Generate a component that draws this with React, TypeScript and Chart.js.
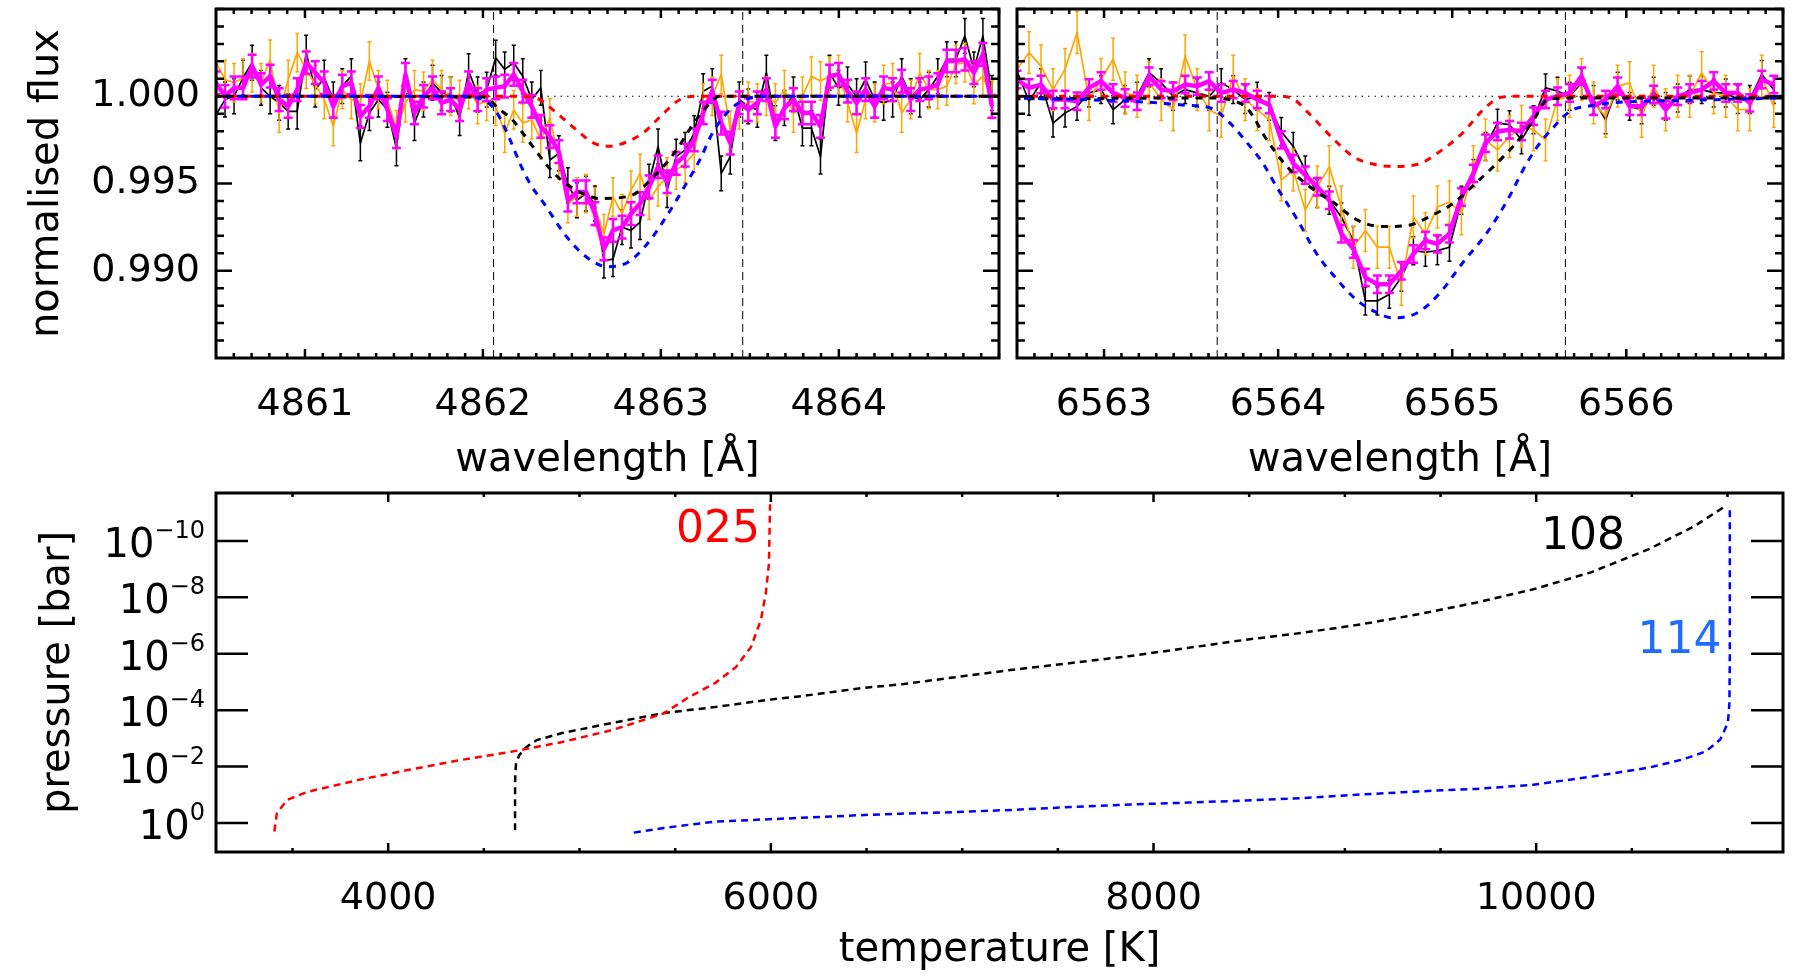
import React, { useEffect, useRef } from "react";
import { Chart, registerables } from "chart.js";

Chart.register(...registerables);

const FONT = "'DejaVu Sans', 'Liberation Sans', Arial, sans-serif";
Chart.defaults.font.family = FONT;
Chart.defaults.color = "#000";

// ---------------- shared flux axis ----------------
const FLUX_RANGE = [0.985, 1.005];
const FLUX_TICKS = [0.99, 0.995, 1.0];

// ---------------- H-beta panel ----------------
const HB_RANGE = [4860.5, 4864.9];
const HB_TICKS = [4861, 4862, 4863, 4864];
const HB_WINDOW = [4862.06, 4863.46];
const HB_WAVE_START = 4860.5;
const HB_WAVE_STEP = 0.0507;
const HB_BLACK = [
  0.99894, 0.99981, 1.0, 1.00106, 1.00192, 1.00048, 1.0, 0.99962, 0.99913, 0.99913,
  1.0025, 1.00038, 1.00106, 0.99981, 1.00058, 1.00115, 0.99731, 0.99904, 0.99981, 0.99923,
  0.99702, 1.00115, 0.99846, 0.99981, 1.00077, 1.00019, 1.0001, 0.99875, 1.00144, 1.0001,
  1.00038, 1.00221, 1.00154, 1.00192, 1.00115, 0.99981, 1.00048, 0.99635, 0.99673, 0.9949,
  0.99404, 0.99442, 0.99385, 0.99058, 0.99067, 0.9925, 0.99231, 0.99279, 0.9951, 0.99712,
  0.99462, 0.99654, 0.99692, 0.99788, 1.00029, 1.00058, 0.99558, 0.99654, 0.99981, 0.99942,
  0.99923, 1.00135, 0.99846, 0.99933, 1.0001, 0.99817, 0.99817, 0.99654, 1.00135, 1.00048,
  1.00067, 1.0, 1.00096, 0.99981, 0.99962, 0.99981, 1.00115, 1.0, 0.99981, 1.00038,
  1.00115, 1.00212, 1.00212, 1.00346, 1.00154, 1.00346, 1.00019,
];
const HB_ORANGE = [
  1.00192, 1.00096, 1.00077, 1.00106, 1.00135, 1.00077, 1.00212, 0.99904, 1.00096, 1.0025,
  1.00154, 1.00067, 0.99981, 0.99827, 1.00038, 0.99981, 0.99962, 1.00202, 1.00038, 0.99981,
  0.99808, 0.99962, 1.00038, 1.00029, 1.00096, 1.00038, 1.0, 0.99981, 1.00038, 0.99952,
  0.99971, 0.99942, 0.99788, 0.99923, 0.99846, 0.99865, 0.9975, 0.99875, 0.99635, 0.99385,
  0.99423, 0.99442, 0.99365, 0.99212, 0.99423, 0.99327, 0.99462, 0.99558, 0.99404, 0.99481,
  0.99538, 0.99577, 0.99615, 0.99673, 0.99962, 1.0, 1.00125, 0.99808, 0.99923, 0.99971,
  0.99962, 1.0, 0.99962, 1.00038, 0.99904, 1.0, 1.00115, 1.00087, 1.00115, 1.00125,
  0.99962, 0.99788, 0.99981, 0.99962, 1.00067, 1.00077, 0.99904, 0.99981, 1.00135, 1.00038,
  1.00038, 1.00058, 1.00183, 1.00192, 1.00067, 1.00115, 0.99981,
];
const HB_MAGENTA = [
  1.00077, 1.0, 1.00048, 1.00048, 1.00173, 1.00067, 1.00115, 0.99981, 0.99942, 1.00038,
  1.00192, 1.00135, 1.00077, 0.99942, 1.00058, 1.00077, 0.99885, 0.99942, 1.00048, 0.99923,
  0.99769, 1.00125, 0.99904, 1.0, 1.00048, 0.99962, 0.99981, 0.99923, 1.00077, 0.99981,
  1.00038, 1.00048, 1.00058, 1.00125, 1.00029, 0.99942, 0.99827, 0.99769, 0.99683, 0.99404,
  0.99452, 0.99452, 0.99327, 0.99125, 0.99231, 0.9925, 0.99327, 0.99385, 0.99481, 0.99596,
  0.9951, 0.99615, 0.99663, 0.9975, 0.99904, 1.00029, 0.99846, 0.99731, 0.99962, 0.99923,
  0.99962, 1.00038, 0.99827, 0.99933, 0.99981, 0.99904, 0.99904, 0.99827, 1.00115, 1.00125,
  1.00029, 0.99962, 1.00038, 0.99942, 1.00048, 1.00038, 1.00087, 0.99981, 1.00038, 1.00048,
  1.00067, 1.00202, 1.00202, 1.00212, 1.00135, 1.0024, 0.99942,
];
const HB_ERR_BLACK = 0.001;
const HB_ERR_ORANGE = 0.0011;
const HB_ERR_MAGENTA = 0.00065;
const HB_MODEL_RED = [
  [4860.5, 1], [4862.2, 1], [4862.3, 0.9999], [4862.39, 0.99925], [4862.51, 0.9982],
  [4862.62, 0.99733], [4862.7, 0.99714], [4862.77, 0.99724], [4862.9, 0.9979],
  [4863.01, 0.99897], [4863.11, 0.99983], [4863.2, 1], [4864.9, 1],
];
const HB_MODEL_BLACK = [
  [4860.5, 1], [4862.0, 0.99995], [4862.1, 0.9992], [4862.17, 0.9986], [4862.25, 0.99753],
  [4862.39, 0.99569], [4862.49, 0.99483], [4862.66, 0.99414], [4862.83, 0.9943],
  [4862.96, 0.9954], [4863.07, 0.99667], [4863.2, 0.99868], [4863.26, 0.99943],
  [4863.33, 1], [4864.9, 1],
];
const HB_MODEL_BLUE = [
  [4860.5, 1], [4861.9, 1], [4862.0, 0.9998], [4862.05, 0.99943], [4862.1, 0.99868],
  [4862.16, 0.99733], [4862.21, 0.9961], [4862.27, 0.9949], [4862.34, 0.9939],
  [4862.47, 0.99195], [4862.58, 0.9908], [4862.7, 0.99023], [4862.81, 0.99046],
  [4862.92, 0.9915], [4863.03, 0.9931], [4863.15, 0.99512], [4863.22, 0.99638],
  [4863.29, 0.9979], [4863.39, 0.99925], [4863.48, 0.99983], [4863.6, 1], [4864.9, 1],
];

// ---------------- H-alpha panel ----------------
const HA_RANGE = [6562.5, 6566.9];
const HA_TICKS = [6563, 6564, 6565, 6566];
const HA_WINDOW = [6563.65, 6565.65];
const HA_WAVE_START = 6562.5;
const HA_WAVE_STEP = 0.069;
const HA_BLACK = [
  1.00144, 0.99971, 1.00077, 0.99846, 0.99904, 0.99942, 1.00019, 1.00038, 0.99923, 0.99981,
  1.0, 1.00135, 1.00077, 1.0, 1.00038, 1.00019, 1.0, 1.00077, 1.00038, 0.99981,
  1.0, 0.99942, 0.99798, 0.99712, 0.99577, 0.99442, 0.99404, 0.99308, 0.99173, 0.98827,
  0.98827, 0.98865, 0.98962, 0.99115, 0.99106, 0.99115, 0.99135, 0.99404, 0.99558, 0.99712,
  0.99846, 0.99837, 0.9975, 0.99865, 1.00048, 1.00029, 1.0, 1.00077, 0.99981, 0.99865,
  1.00058, 0.99942, 0.99923, 1.00029, 0.99942, 0.9999, 1.00038, 1.00038, 1.00019, 1.00019,
  0.99981, 0.99981, 1.00125, 1.00038,
];
const HA_ORANGE = [
  1.00154, 1.0025, 1.00173, 1.00038, 1.00154, 1.00365, 0.99981, 1.00096, 1.00212, 1.00019,
  1.0, 1.00077, 0.99981, 0.99923, 1.00231, 1.00038, 0.99923, 0.99885, 1.00115, 0.99981,
  0.99923, 0.99865, 0.99519, 0.99577, 0.99346, 0.99481, 0.99596, 0.99365, 0.99135, 0.99231,
  0.99135, 0.99135, 0.98923, 0.99308, 0.99212, 0.99365, 0.99394, 0.99327, 0.99596, 0.9975,
  0.99692, 0.99769, 0.99827, 0.99808, 0.9975, 0.99981, 1.0, 1.00096, 0.99962, 0.99885,
  1.00058, 1.00077, 0.99885, 1.00058, 0.99923, 1.0, 1.0, 1.00135, 1.00019, 1.0,
  0.99923, 0.99923, 1.00115, 0.99942,
];
const HA_MAGENTA = [
  1.00096, 1.00048, 1.00067, 0.99981, 0.99981, 0.99971, 1.00048, 1.00087, 1.00019, 0.9999,
  0.99971, 1.00115, 1.00038, 1.00029, 1.00067, 1.00058, 1.00087, 1.00019, 1.00038, 1.00019,
  0.99981, 0.99952, 0.9975, 0.99615, 0.99548, 0.99481, 0.99404, 0.99212, 0.99125, 0.98962,
  0.98923, 0.98923, 0.99, 0.99096, 0.99173, 0.99154, 0.99212, 0.99423, 0.99558, 0.99731,
  0.99798, 0.99808, 0.99798, 0.99885, 0.99981, 1.0, 1.00019, 1.00115, 0.99942, 0.99981,
  1.00058, 0.99942, 0.99942, 1.0001, 0.99923, 1.0, 1.00019, 1.00038, 1.00087, 1.00019,
  1.00019, 0.99962, 1.00096, 1.00067,
];
const HA_ERR_BLACK = 0.0008;
const HA_ERR_ORANGE = 0.0012;
const HA_ERR_MAGENTA = 0.0005;
const HA_MODEL_RED = [
  [6562.5, 1], [6564.0, 1], [6564.09, 0.99983], [6564.17, 0.99908], [6564.32, 0.99753],
  [6564.43, 0.99655], [6564.55, 0.9961], [6564.66, 0.99598], [6564.8, 0.9961],
  [6564.93, 0.99684], [6565.06, 0.9979], [6565.18, 0.99925], [6565.28, 0.99994],
  [6565.4, 1], [6566.9, 1],
];
const HA_MODEL_BLACK = [
  [6562.5, 0.99985], [6563.6, 0.9999], [6563.8, 0.9995], [6563.86, 0.9988], [6563.91, 0.9979],
  [6564.05, 0.99598], [6564.18, 0.99483], [6564.32, 0.9939], [6564.45, 0.99293],
  [6564.6, 0.99253], [6564.74, 0.99259], [6564.87, 0.9931], [6565.01, 0.9939],
  [6565.14, 0.99506], [6565.26, 0.9962], [6565.37, 0.99735], [6565.47, 0.99868],
  [6565.55, 0.99983], [6565.7, 0.9999], [6566.9, 0.9999],
];
const HA_MODEL_BLUE = [
  [6562.5, 0.99989], [6562.9, 0.9998], [6563.25, 0.99966], [6563.45, 0.9995], [6563.62, 0.9993],
  [6563.72, 0.9985], [6563.82, 0.99735], [6563.91, 0.9962], [6563.99, 0.99483],
  [6564.11, 0.99293], [6564.22, 0.991], [6564.34, 0.98948], [6564.45, 0.98833],
  [6564.57, 0.98759], [6564.66, 0.9873], [6564.8, 0.98759], [6564.93, 0.98874],
  [6565.06, 0.99046], [6565.2, 0.99218], [6565.32, 0.9941], [6565.43, 0.9962],
  [6565.52, 0.99753], [6565.58, 0.9982], [6565.64, 0.99885], [6565.7, 0.99925],
  [6565.78, 0.99943], [6565.89, 0.9996], [6566.37, 0.99977], [6566.9, 0.9999],
];

// ---------------- T-P profiles (temperature K, pressure bar) ----------------
const TEMP_RANGE = [3100, 11290];
const TEMP_TICKS = [4000, 6000, 8000, 10000];
const PRESSURE_RANGE = [2e-12, 10.7];
const PRESSURE_EXPONENTS = [-10, -8, -6, -4, -2, 0];
const PROFILE_025 = [
  [3405, 2.0], [3418, 0.45], [3473, 0.15], [3577, 0.079], [3843, 0.03], [4110, 0.013],
  [4376, 5.9e-3], [4642, 3.0e-3], [4909, 1.35e-3], [5175, 5.0e-4], [5441, 1.3e-4],
  [5570, 3.5e-5], [5708, 1.1e-5], [5817, 3.0e-6], [5896, 5.8e-7], [5948, 6.3e-8],
  [5974, 6.9e-9], [5990, 6.3e-10], [5995, 1e-11], [5996, 5e-12],
];
const PROFILE_108 = [
  [4663, 1.8], [4663, 0.1], [4664, 0.02], [4668, 7.9e-3], [4684, 4.0e-3], [4723, 2.0e-3],
  [4777, 1.15e-3], [4909, 6.5e-4], [5175, 2.8e-4], [5441, 1.26e-4], [5708, 7.8e-5],
  [5974, 4.4e-5], [6157, 3.2e-5], [6491, 1.6e-5], [6677, 1.23e-5], [6977, 6.6e-6],
  [7278, 3.6e-6], [7579, 2.1e-6], [7880, 1.2e-6], [8180, 6.2e-7], [8481, 3.2e-7],
  [8782, 1.8e-7], [9083, 9.1e-8], [9383, 4.0e-8], [9684, 1.55e-8], [9985, 5.2e-9],
  [10286, 1.3e-9], [10586, 2.0e-10], [10827, 3.0e-11], [10977, 6.6e-12],
];
const PROFILE_114 = [
  [5284, 2.2], [5441, 1.5], [5708, 0.89], [6157, 0.66], [6491, 0.52], [6677, 0.47],
  [6977, 0.41], [7278, 0.34], [7579, 0.27], [7880, 0.22], [8180, 0.19], [8481, 0.16],
  [8782, 0.13], [9083, 0.098], [9383, 0.076], [9684, 0.062], [9985, 0.044], [10286, 0.023],
  [10586, 0.011], [10767, 5.6e-3], [10887, 2.9e-3], [10962, 1.1e-3], [11002, 2.8e-4],
  [11010, 5.5e-5], [11012, 1.2e-6], [11012, 6e-12],
];
const PROFILE_LABELS = [
  { text: "025", color: "#ff0000", t: 5943, p: 1.1e-10, align: "right" },
  { text: "108", color: "#000000", t: 10025, p: 2.0e-10, align: "left" },
  { text: "114", color: "#1f6cff", t: 10530, p: 9.1e-7, align: "left" },
];

// ---------------- helpers ----------------
function makeRange(from: number, to: number, step: number): number[] {
  const out: number[] = [];
  const n = Math.round((to - from) / step);
  for (let i = 0; i <= n; i++) out.push(+(from + i * step).toFixed(6));
  return out;
}
const spectrum = (start: number, step: number, vals: number[]) =>
  vals.map((y, i) => ({ x: start + i * step, y }));
const pairs = (arr: number[][]) => arr.map(([x, y]) => ({ x, y }));

const framePlugin = {
  id: "frame",
  afterDraw(chart: any, _a: any, o: any) {
    if (!o || !o.enabled) return;
    const { ctx } = chart;
    const { left, right, top, bottom } = chart.chartArea;
    const xs = chart.scales.x;
    const ys = chart.scales.y;
    ctx.save();
    ctx.strokeStyle = "#000";
    ctx.lineCap = "butt";
    ctx.lineWidth = o.tickWidth;
    ctx.beginPath();
    const xt = (vals: number[], len: number) => {
      for (const v of vals) {
        const p = xs.getPixelForValue(v);
        if (p < left || p > right) continue;
        ctx.moveTo(p, bottom);
        ctx.lineTo(p, bottom - len);
        ctx.moveTo(p, top);
        ctx.lineTo(p, top + len);
      }
    };
    const yt = (vals: number[], len: number) => {
      for (const v of vals) {
        const p = ys.getPixelForValue(v);
        if (p < top || p > bottom) continue;
        ctx.moveTo(left, p);
        ctx.lineTo(left + len, p);
        ctx.moveTo(right, p);
        ctx.lineTo(right - len, p);
      }
    };
    xt(o.xMajor, o.xMajLen);
    xt(o.xMinor, o.xMinLen);
    yt(o.yMajor, o.yMajLen);
    yt(o.yMinor, o.yMinLen);
    ctx.stroke();
    ctx.lineWidth = o.frameWidth;
    ctx.strokeRect(left, top, right - left, bottom - top);
    ctx.restore();
  },
};

const errorBarPlugin = {
  id: "errbars",
  afterDatasetDraw(chart: any, args: any) {
    const ds: any = chart.data.datasets[args.index];
    if (ds.errors === undefined) return;
    const { ctx, chartArea: ca } = chart;
    const xs = chart.scales.x;
    const ys = chart.scales.y;
    ctx.save();
    ctx.beginPath();
    ctx.rect(ca.left, ca.top, ca.right - ca.left, ca.bottom - ca.top);
    ctx.clip();
    ctx.strokeStyle = ds.borderColor;
    ctx.lineWidth = ds.errWidth;
    ctx.beginPath();
    ds.data.forEach((pt: any, i: number) => {
      const e = Array.isArray(ds.errors) ? ds.errors[i] : ds.errors;
      const px = xs.getPixelForValue(pt.x);
      const y1 = ys.getPixelForValue(pt.y - e);
      const y2 = ys.getPixelForValue(pt.y + e);
      ctx.moveTo(px, y1);
      ctx.lineTo(px, y2);
      ctx.moveTo(px - ds.cap, y1);
      ctx.lineTo(px + ds.cap, y1);
      ctx.moveTo(px - ds.cap, y2);
      ctx.lineTo(px + ds.cap, y2);
    });
    ctx.stroke();
    ctx.restore();
  },
};

const logLabelPlugin = {
  id: "loglabels",
  afterDraw(chart: any) {
    const { ctx, chartArea: ca } = chart;
    const ys = chart.scales.y;
    const xs = chart.scales.x;
    ctx.save();
    ctx.fillStyle = "#000";
    ctx.textBaseline = "alphabetic";
    for (const e of PRESSURE_EXPONENTS) {
      const y = ys.getPixelForValue(Math.pow(10, e));
      const expText = e === 0 ? "0" : "\u2212" + Math.abs(e);
      ctx.font = `24px ${FONT}`;
      const ew = ctx.measureText(expText).width;
      const rightEdge = ca.left - 11;
      ctx.textAlign = "left";
      ctx.fillText(expText, rightEdge - ew, y - 3);
      ctx.font = `40px ${FONT}`;
      ctx.textAlign = "right";
      ctx.fillText("10", rightEdge - ew, y + 16);
    }
    ctx.font = `44px ${FONT}`;
    for (const l of PROFILE_LABELS) {
      ctx.fillStyle = l.color;
      ctx.textAlign = l.align as CanvasTextAlign;
      ctx.fillText(l.text, xs.getPixelForValue(l.t), ys.getPixelForValue(l.p));
    }
    ctx.restore();
  },
};

const tickFont = { size: 38, family: FONT, lineHeight: 1 };
const titleFont = { size: 40, family: FONT, lineHeight: 1 };

function spectrumConfig(p: any) {
  const modelDs = (data: number[][], color: string, order: number, offset: number) => ({
    data: pairs(data),
    borderColor: color,
    borderWidth: 3,
    borderDash: [7, 7],
    borderDashOffset: offset,
    pointRadius: 0,
    cubicInterpolationMode: "monotone",
    fill: false,
    order,
  });
  const dataDs = (vals: number[], color: string, width: number, order: number, err: number, errWidth: number, cap: number) => ({
    data: spectrum(p.start, p.step, vals),
    borderColor: color,
    borderWidth: width,
    pointRadius: 0,
    tension: 0,
    borderJoinStyle: "round",
    fill: false,
    order,
    errors: err,
    errWidth,
    cap,
  });
  return {
    type: "line",
    data: {
      datasets: [
        modelDs(p.blue, "#0000ff", 1, 7),
        modelDs(p.black, "#000000", 2, 3.5),
        modelDs(p.red, "#ff0000", 3, 0),
        dataDs(p.magenta, "#ff00ff", 4.5, 4, p.errMagenta, 2.5, 4.5),
        dataDs(p.orange, "#ffa500", 1.7, 5, p.errOrange, 1.5, 2),
        dataDs(p.blackData, "#000000", 1.7, 6, p.errBlack, 1.5, 2),
        {
          data: [{ x: p.window[0], y: FLUX_RANGE[0] }, { x: p.window[0], y: FLUX_RANGE[1] }],
          borderColor: "#000", borderWidth: 1, borderDash: [8, 5], pointRadius: 0, order: 7,
        },
        {
          data: [{ x: p.window[1], y: FLUX_RANGE[0] }, { x: p.window[1], y: FLUX_RANGE[1] }],
          borderColor: "#000", borderWidth: 1, borderDash: [8, 5], pointRadius: 0, order: 7,
        },
        {
          data: [{ x: p.range[0], y: 1 }, { x: p.range[1], y: 1 }],
          borderColor: "#000", borderWidth: 1, borderDash: [1.5, 5], pointRadius: 0, order: 8,
        },
      ],
    },
    options: {
      animation: false,
      responsive: false,
      devicePixelRatio: 1,
      events: [],
      layout: { padding: { left: p.showY ? 0 : 9, top: 9, right: p.padRight, bottom: 0 } },
      plugins: {
        legend: { display: false },
        tooltip: { enabled: false },
        frame: {
          enabled: true,
          xMajor: p.ticks,
          xMinor: makeRange(p.range[0] + 0.1, p.range[1], 0.1),
          yMajor: FLUX_TICKS,
          yMinor: makeRange(0.986, 1.005, 0.001),
          xMajLen: 9, xMinLen: 5, yMajLen: 16, yMinLen: 8,
          tickWidth: 2.5, frameWidth: 3,
        },
      },
      scales: {
        x: {
          type: "linear",
          position: "bottom",
          min: p.range[0],
          max: p.range[1],
          grid: { display: false, drawTicks: false },
          border: { display: false },
          ticks: {
            font: tickFont, color: "#000", padding: 28, maxRotation: 0, autoSkip: false,
            callback: (v: any) => String(v),
          },
          afterBuildTicks: (s: any) => { s.ticks = p.ticks.map((v: number) => ({ value: v })); },
          afterFit: (s: any) => { s.height = 490 - 358; s.paddingLeft = 0; s.paddingRight = 0; },
          title: { display: true, text: "wavelength [Å]", font: titleFont, color: "#000", padding: { top: 0, bottom: 9 } },
        },
        y: {
          type: "linear",
          display: p.showY,
          min: FLUX_RANGE[0],
          max: FLUX_RANGE[1],
          grid: { display: false, drawTicks: false },
          border: { display: false },
          ticks: { font: tickFont, color: "#000", padding: 16, callback: (v: any) => Number(v).toFixed(3) },
          afterBuildTicks: (s: any) => { s.ticks = FLUX_TICKS.map((v) => ({ value: v })); },
          afterFit: (s: any) => {
            s.width = p.showY ? 216 : 0;
            s.paddingTop = 0;
            s.paddingBottom = 0;
          },
          title: { display: true, text: "normalised flux", font: titleFont, color: "#000", padding: { top: 28, bottom: 0 } },
        },
      },
    },
    plugins: [framePlugin, errorBarPlugin],
  };
}

function profileConfig() {
  const prof = (data: number[][], color: string) => ({
    data: pairs(data),
    borderColor: color,
    borderWidth: 2.5,
    borderDash: [7, 5],
    pointRadius: 0,
    tension: 0,
    fill: false,
  });
  return {
    type: "line",
    data: {
      datasets: [prof(PROFILE_025, "#ff0000"), prof(PROFILE_108, "#000000"), prof(PROFILE_114, "#0000ff")],
    },
    options: {
      animation: false,
      responsive: false,
      devicePixelRatio: 1,
      events: [],
      layout: { padding: { left: 0, top: 13, right: 17, bottom: 0 } },
      plugins: {
        legend: { display: false },
        tooltip: { enabled: false },
        frame: {
          enabled: true,
          xMajor: TEMP_TICKS,
          xMinor: makeRange(3500, 11000, 500).filter((v) => v % 2000 !== 0),
          yMajor: PRESSURE_EXPONENTS.map((e) => Math.pow(10, e)),
          yMinor: [],
          xMajLen: 9, xMinLen: 4, yMajLen: 32, yMinLen: 0,
          tickWidth: 2.5, frameWidth: 3,
        },
      },
      scales: {
        x: {
          type: "linear",
          position: "bottom",
          min: TEMP_RANGE[0],
          max: TEMP_RANGE[1],
          grid: { display: false, drawTicks: false },
          border: { display: false },
          ticks: {
            font: tickFont, color: "#000", padding: 28, maxRotation: 0, autoSkip: false,
            callback: (v: any) => String(v),
          },
          afterBuildTicks: (s: any) => { s.ticks = TEMP_TICKS.map((v) => ({ value: v })); },
          afterFit: (s: any) => { s.height = 500 - 372; s.paddingLeft = 0; s.paddingRight = 0; },
          title: { display: true, text: "temperature [K]", font: titleFont, color: "#000", padding: { top: 0, bottom: 9 } },
        },
        y: {
          type: "logarithmic",
          reverse: true,
          min: PRESSURE_RANGE[0],
          max: PRESSURE_RANGE[1],
          grid: { display: false, drawTicks: false },
          border: { display: false },
          ticks: { display: false },
          afterBuildTicks: (s: any) => { s.ticks = PRESSURE_EXPONENTS.map((e) => ({ value: Math.pow(10, e) })); },
          afterFit: (s: any) => { s.width = 216; s.paddingTop = 0; s.paddingBottom = 0; },
          title: { display: true, text: "pressure [bar]", font: titleFont, color: "#000", padding: { top: 39, bottom: 0 } },
        },
      },
    },
    plugins: [framePlugin, logLabelPlugin],
  };
}

export default function App() {
  const hbRef = useRef<HTMLCanvasElement>(null);
  const haRef = useRef<HTMLCanvasElement>(null);
  const tpRef = useRef<HTMLCanvasElement>(null);

  useEffect(() => {
    const charts: Chart[] = [];
    charts.push(
      new Chart(hbRef.current as HTMLCanvasElement, spectrumConfig({
        start: HB_WAVE_START, step: HB_WAVE_STEP, range: HB_RANGE, ticks: HB_TICKS, window: HB_WINDOW,
        blackData: HB_BLACK, orange: HB_ORANGE, magenta: HB_MAGENTA,
        errBlack: HB_ERR_BLACK, errOrange: HB_ERR_ORANGE, errMagenta: HB_ERR_MAGENTA,
        red: HB_MODEL_RED, black: HB_MODEL_BLACK, blue: HB_MODEL_BLUE,
        showY: true, padRight: 9,
      }) as any)
    );
    charts.push(
      new Chart(haRef.current as HTMLCanvasElement, spectrumConfig({
        start: HA_WAVE_START, step: HA_WAVE_STEP, range: HA_RANGE, ticks: HA_TICKS, window: HA_WINDOW,
        blackData: HA_BLACK, orange: HA_ORANGE, magenta: HA_MAGENTA,
        errBlack: HA_ERR_BLACK, errOrange: HA_ERR_ORANGE, errMagenta: HA_ERR_MAGENTA,
        red: HA_MODEL_RED, black: HA_MODEL_BLACK, blue: HA_MODEL_BLUE,
        showY: false, padRight: 17,
      }) as any)
    );
    charts.push(new Chart(tpRef.current as HTMLCanvasElement, profileConfig() as any));
    return () => charts.forEach((c) => c.destroy());
  }, []);

  return (
    <div style={{ position: "absolute", left: 0, top: 0, width: 1800, height: 980, background: "#fff" }}>
      <canvas ref={hbRef} width={1008} height={490} style={{ position: "absolute", left: 0, top: 0 }} />
      <canvas ref={haRef} width={792} height={490} style={{ position: "absolute", left: 1008, top: 0 }} />
      <canvas ref={tpRef} width={1800} height={500} style={{ position: "absolute", left: 0, top: 480 }} />
    </div>
  );
}
